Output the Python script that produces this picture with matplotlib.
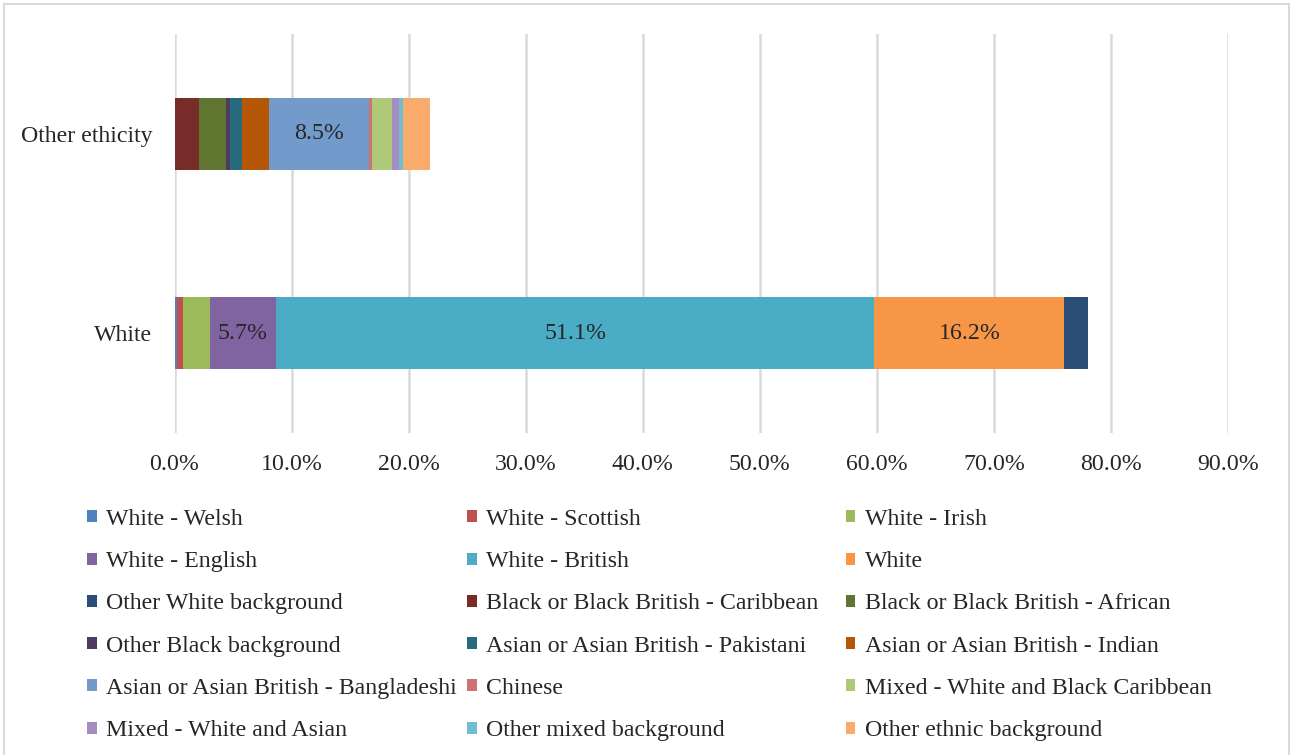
import numpy as np
import matplotlib.pyplot as plt
from matplotlib.patches import Rectangle, Patch
from matplotlib.ticker import FuncFormatter

plt.rcParams['font.family'] = ['Liberation Serif', 'DejaVu Serif']

categories = ['White', 'Other ethicity']

series_names = [
    'White - Welsh', 'White - Scottish', 'White - Irish',
    'White - English', 'White - British', 'White',
    'Other White background', 'Black or Black British - Caribbean', 'Black or Black British - African',
    'Other Black background', 'Asian or Asian British - Pakistani', 'Asian or Asian British - Indian',
    'Asian or Asian British - Bangladeshi', 'Chinese', 'Mixed - White and Black Caribbean',
    'Mixed - White and Asian', 'Other mixed background', 'Other ethnic background',
]

# percent share for [White, Other ethicity]
white_vals = [0.2, 0.5, 2.3, 5.7, 51.1, 16.2, 2.0,
              0, 0, 0, 0, 0, 0, 0, 0, 0, 0, 0]
other_vals = [0, 0, 0, 0, 0, 0, 0,
              2.1, 2.3, 0.3, 1.1, 2.3, 8.5, 0.3, 1.7, 0.6, 0.3, 2.3]

colors = [
    '#4F81BD', '#C0504D', '#9BBB59', '#8064A2', '#4BACC6', '#F79646',
    '#2C4D75', '#772C2A', '#5F7530', '#4D3B62', '#276A7C', '#B65708',
    '#729ACA', '#CD7371', '#AFC97A', '#A58EBF', '#6FBDD1', '#F9AB6B',
]

fs = 17.2
fig = plt.figure(figsize=(12.9, 7.55), dpi=100)
ax = fig.add_axes([174.5 / 1290, 1 - 433 / 755, (1228 - 174.5) / 1290, 399 / 755])

y = np.arange(len(categories))
left = np.zeros(len(categories))
for name, wv, ov, c in zip(series_names, white_vals, other_vals, colors):
    vals = np.array([wv, ov])
    ax.barh(y, vals, left=left, height=0.36, color=c, label=name, zorder=3)
    for yi, v, l in zip(y, vals, left):
        if v >= 5:
            ax.text(l + v / 2, yi, f'{v:.1f}%', ha='center', va='center',
                    fontsize=fs, color='#262626', zorder=4)
    left += vals

ax.set_xlim(0, 90)
ax.set_ylim(-0.5, 1.5)
ax.set_xticks(np.arange(0, 91, 10))
ax.xaxis.set_major_formatter(FuncFormatter(lambda v, p: f'{v:.1f}%'))
ax.set_yticks(y)
ax.set_yticklabels(categories)
ax.tick_params(axis='both', length=0, labelsize=fs, colors='#262626')
ax.tick_params(axis='x', pad=15)
ax.tick_params(axis='y', pad=16)
ax.grid(axis='x', color='#d9d9d9', linewidth=1.8, zorder=0)
for s in ax.spines.values():
    s.set_visible(False)

# legend laid out in three columns, filled row by row
handles = [Patch(facecolor=c, edgecolor='none') for c in colors]
col_x = [75, 455, 834]
for ci in range(3):
    idx = list(range(ci, len(series_names), 3))
    fig.legend([handles[i] for i in idx], [series_names[i] for i in idx],
               loc='upper left', bbox_to_anchor=(col_x[ci] / 1290, 1 - 497 / 755),
               frameon=False, fontsize=fs, handlelength=0.4, handleheight=0.4,
               handletextpad=0.4, labelspacing=0.89, borderpad=0,
               labelcolor='#262626')

fig.patches.append(Rectangle((4 / 1290, -0.01), 1285 / 1290, 1.01 - 4 / 755,
                             transform=fig.transFigure, fill=False,
                             edgecolor='#d9d9d9', linewidth=1.5))

fig.savefig('out.png', dpi=100)
